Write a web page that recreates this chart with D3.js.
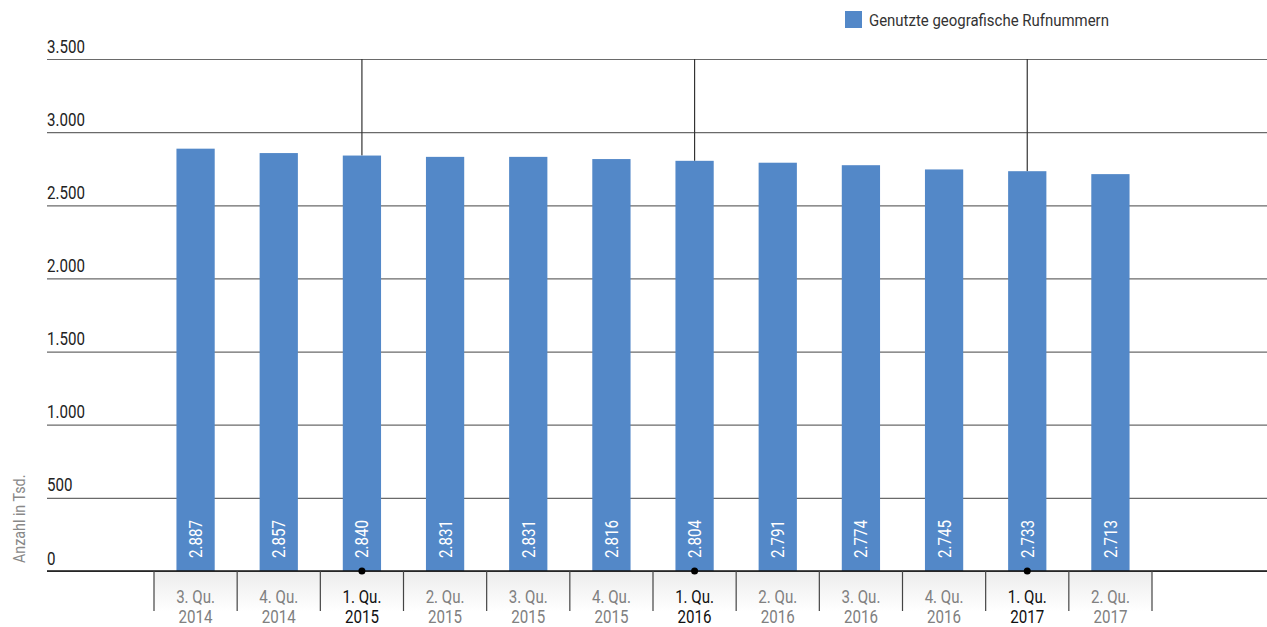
<!DOCTYPE html>
<html>
<head>
<meta charset="utf-8">
<script src="https://cdn.jsdelivr.net/npm/d3@7"></script>
<style>
  html, body { margin: 0; padding: 0; background: #fff; }
  svg text { font-family: Roboto, "Noto Sans", sans-serif; }
</style>
</head>
<body>
<svg id="chart" width="1267" height="627"></svg>
<script>
const quarters = ["3. Qu.", "4. Qu.", "1. Qu.", "2. Qu.", "3. Qu.", "4. Qu.", "1. Qu.", "2. Qu.", "3. Qu.", "4. Qu.", "1. Qu.", "2. Qu."];
const years = ["2014", "2014", "2015", "2015", "2015", "2015", "2016", "2016", "2016", "2016", "2017", "2017"];
const values = [2887, 2857, 2840, 2831, 2831, 2816, 2804, 2791, 2774, 2745, 2733, 2713];
const yTicks = [0, 500, 1000, 1500, 2000, 2500, 3000, 3500];
const seriesName = "Genutzte geografische Rufnummern";
const yTitle = "Anzahl in Tsd.";

const categories = quarters.map((q, i) => q + " " + years[i]);
const data = categories.map((c, i) => ({ cat: c, q: quarters[i], yr: years[i], v: values[i] }));

const svg = d3.select("#chart");
const W = 1267, H = 627;
const left = 47, plotTop = 59, plotBottom = 571;
const xStart = 154, xEnd = 1152;
const SX = 0.84; // horizontal condensing to mimic a narrow font

const de = d3.formatLocale({ decimal: ",", thousands: ".", grouping: [3], currency: ["", "€"] });
const fmt = de.format(",d");

const x = d3.scaleBand().domain(categories).range([xStart, xEnd]).paddingInner(0.54).paddingOuter(0.27);
const xb = d3.scaleBand().domain(categories).range([xStart, xEnd]).padding(0);
const y = d3.scaleLinear().domain([0, 3500]).range([plotBottom, plotTop]);

const barColor = "#5388c8";

const defs = svg.append("defs");
const grad = defs.append("linearGradient").attr("id", "lblgrad").attr("x1", 0).attr("y1", 0).attr("x2", 0).attr("y2", 1);
grad.append("stop").attr("offset", "0%").attr("stop-color", "#ececec");
grad.append("stop").attr("offset", "100%").attr("stop-color", "#ffffff");

svg.append("rect").attr("x", xStart).attr("y", plotBottom).attr("width", xEnd - xStart).attr("height", 40).attr("fill", "url(#lblgrad)");

// y axis with gridlines
const yAxis = d3.axisRight(y).tickValues(yTicks).tickSize(W - left).tickFormat(fmt);
const gy = svg.append("g").attr("transform", `translate(${left},0)`).call(yAxis);
gy.select(".domain").remove();
gy.selectAll(".tick line").attr("stroke", "#6a6a6a").attr("stroke-width", 1.2);
gy.selectAll(".tick text").attr("x", 0).attr("y", -7).attr("dy", null).attr("text-anchor", "start")
  .attr("font-size", 18).attr("fill", "#222").attr("transform", `scale(${SX},1)`);

// Q1 vertical reference lines
svg.append("g").selectAll("line").data(data.filter(d => d.q.startsWith("1."))).join("line")
  .attr("x1", d => x(d.cat) + x.bandwidth() / 2).attr("x2", d => x(d.cat) + x.bandwidth() / 2)
  .attr("y1", y(3500)).attr("y2", d => y(d.v))
  .attr("stroke", "#333").attr("stroke-width", 1.2);

// bars
svg.append("g").selectAll("rect").data(data).join("rect")
  .attr("x", d => x(d.cat)).attr("width", x.bandwidth())
  .attr("y", d => y(d.v)).attr("height", d => y(0) - y(d.v))
  .attr("fill", barColor);

// value labels
svg.append("g").selectAll("text").data(data).join("text")
  .attr("transform", d => `translate(${x(d.cat) + x.bandwidth() / 2 + 6.5},${y(0) - 13}) rotate(-90) scale(${SX},1)`)
  .attr("text-anchor", "start").attr("font-size", 18).attr("fill", "#fff")
  .text(d => fmt(d.v));

// zero axis line
svg.append("line").attr("x1", left).attr("x2", W).attr("y1", y(0)).attr("y2", y(0))
  .attr("stroke", "#111").attr("stroke-width", 1.6);

// category separators
const seps = categories.map(c => xb(c)).concat([xb.range()[1]]);
svg.append("g").selectAll("line").data(seps).join("line")
  .attr("x1", d => d).attr("x2", d => d).attr("y1", y(0)).attr("y2", y(0) + 40)
  .attr("stroke", "#444").attr("stroke-width", 1.2);

// Q1 dots
svg.append("g").selectAll("circle").data(data.filter(d => d.q.startsWith("1."))).join("circle")
  .attr("cx", d => x(d.cat) + x.bandwidth() / 2).attr("cy", y(0)).attr("r", 3.5).attr("fill", "#000");

// category labels
const lblG = svg.append("g").selectAll("g").data(data).join("g")
  .attr("transform", d => `translate(${xb(d.cat) + xb.bandwidth() / 2},0) scale(${SX},1)`);
lblG.append("text").attr("x", 0).attr("y", 603).attr("text-anchor", "middle").attr("font-size", 18)
  .attr("fill", d => d.q.startsWith("1.") ? "#111" : "#808080").text(d => d.q);
lblG.append("text").attr("x", 0).attr("y", 623).attr("text-anchor", "middle").attr("font-size", 18)
  .attr("fill", d => d.q.startsWith("1.") ? "#111" : "#808080").text(d => d.yr);

// y title
svg.append("text").attr("transform", `translate(25,563) rotate(-90) scale(${SX},1)`)
  .attr("text-anchor", "start").attr("font-size", 17).attr("fill", "#888").text(yTitle);

// legend
const lg = svg.append("g").attr("transform", "translate(845,11)");
lg.append("rect").attr("width", 17).attr("height", 17).attr("fill", barColor);
lg.append("text").attr("transform", `translate(24,15) scale(${SX + 0.04},1)`).attr("font-size", 17).attr("fill", "#333").text(seriesName);
</script>
</body>
</html>
